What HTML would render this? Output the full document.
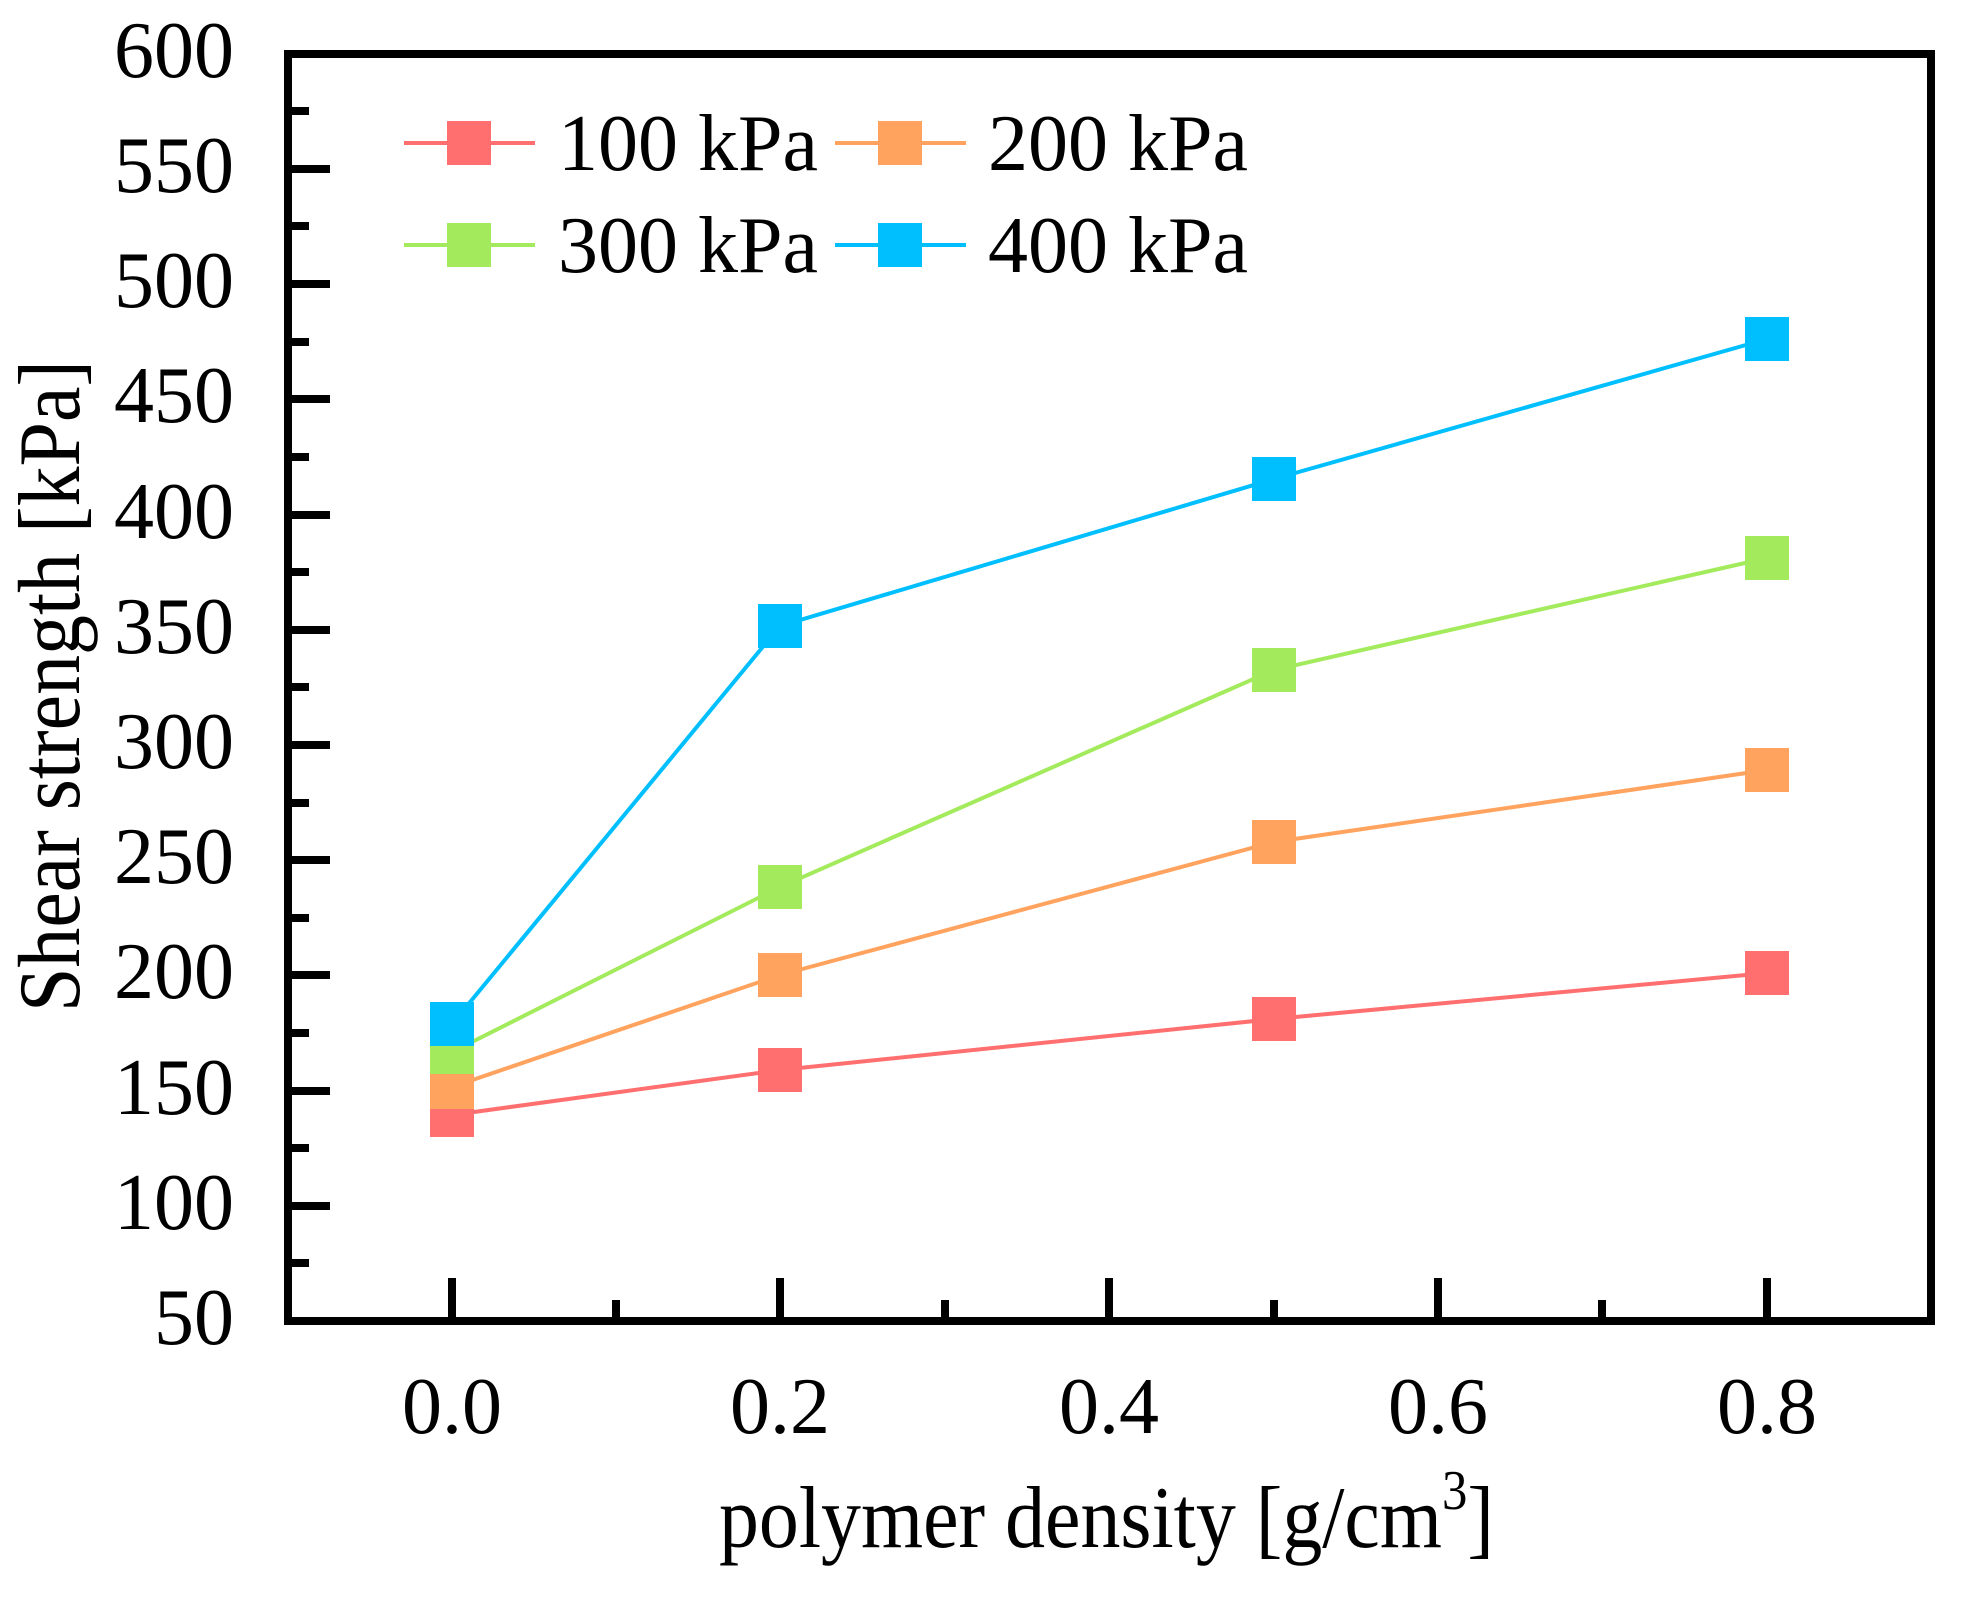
<!DOCTYPE html>
<html><head><meta charset="utf-8"><style>
html,body{margin:0;padding:0;background:#fff;}
svg{display:block;}
text{font-family:"Liberation Serif",serif;fill:#000;}
</style></head><body>
<svg width="1980" height="1597" viewBox="0 0 1980 1597" xmlns="http://www.w3.org/2000/svg">
<rect width="1980" height="1597" fill="#fff"/>
<g stroke="#000" stroke-width="8" fill="none">
<path d="M288 169H330 M288 284H330 M288 399H330 M288 515H330 M288 630H330 M288 745H330 M288 860H330 M288 975H330 M288 1091H330 M288 1206H330"/>
<path d="M288 111H309 M288 226H309 M288 342H309 M288 457H309 M288 572H309 M288 687H309 M288 803H309 M288 918H309 M288 1033H309 M288 1148H309 M288 1263H309"/>
<path d="M452 1321V1278 M780 1321V1278 M1109 1321V1278 M1438 1321V1278 M1767 1321V1278"/>
<path d="M616 1321V1300 M945 1321V1300 M1274 1321V1300 M1602 1321V1300"/>
<rect x="288" y="54" width="1643" height="1267"/>
</g>
<g font-size="80" text-anchor="end">
<text x="234" y="77">600</text><text x="234" y="192">550</text><text x="234" y="307">500</text><text x="234" y="422">450</text><text x="234" y="538">400</text><text x="234" y="653">350</text><text x="234" y="768">300</text><text x="234" y="883">250</text><text x="234" y="998">200</text><text x="234" y="1114">150</text><text x="234" y="1229">100</text><text x="234" y="1344">50</text>
</g>
<g font-size="80" text-anchor="middle">
<text x="452" y="1433">0.0</text><text x="780" y="1433">0.2</text><text x="1109" y="1433">0.4</text><text x="1438" y="1433">0.6</text><text x="1767" y="1433">0.8</text>
</g>
<text x="719" y="1547" font-size="88" textLength="775" lengthAdjust="spacingAndGlyphs">polymer density [g/cm<tspan font-size="56" dy="-38">3</tspan><tspan dy="38">]</tspan></text>
<text transform="translate(79,1012) rotate(-90)" font-size="88" textLength="652" lengthAdjust="spacingAndGlyphs">Shear strength [kPa]</text>
<g stroke-width="4" fill="none">
<polyline stroke="#FF6F6F" points="452,1115 780,1070 1274,1019 1767,973"/>
<polyline stroke="#FFA35E" points="452,1087 780,975 1274,842 1767,770"/>
<polyline stroke="#A3EB5C" points="452,1052 780,887 1274,670 1767,558"/>
<polyline stroke="#00BFFF" points="452,1024 780,626 1274,479 1767,339"/>
</g>
<g fill="#FF6F6F"><rect x="430" y="1093" width="44" height="44"/><rect x="758" y="1048" width="44" height="44"/><rect x="1252" y="997" width="44" height="44"/><rect x="1745" y="951" width="44" height="44"/></g>
<g fill="#FFA35E"><rect x="430" y="1065" width="44" height="44"/><rect x="758" y="953" width="44" height="44"/><rect x="1252" y="820" width="44" height="44"/><rect x="1745" y="748" width="44" height="44"/></g>
<g fill="#A3EB5C"><rect x="430" y="1030" width="44" height="44"/><rect x="758" y="865" width="44" height="44"/><rect x="1252" y="648" width="44" height="44"/><rect x="1745" y="536" width="44" height="44"/></g>
<g fill="#00BFFF"><rect x="430" y="1002" width="44" height="44"/><rect x="758" y="604" width="44" height="44"/><rect x="1252" y="457" width="44" height="44"/><rect x="1745" y="317" width="44" height="44"/></g>
<g stroke-width="4">
<line x1="404" y1="143" x2="535" y2="143" stroke="#FF6F6F"/>
<line x1="404" y1="245" x2="535" y2="245" stroke="#A3EB5C"/>
<line x1="835" y1="143" x2="966" y2="143" stroke="#FFA35E"/>
<line x1="835" y1="245" x2="966" y2="245" stroke="#00BFFF"/>
</g>
<rect x="447" y="121" width="44" height="44" fill="#FF6F6F"/>
<rect x="447" y="223" width="44" height="44" fill="#A3EB5C"/>
<rect x="878" y="121" width="44" height="44" fill="#FFA35E"/>
<rect x="878" y="223" width="44" height="44" fill="#00BFFF"/>
<g font-size="80">
<text x="558" y="170">100 kPa</text>
<text x="558" y="272">300 kPa</text>
<text x="988" y="170">200 kPa</text>
<text x="988" y="272">400 kPa</text>
</g>
</svg>
</body></html>
